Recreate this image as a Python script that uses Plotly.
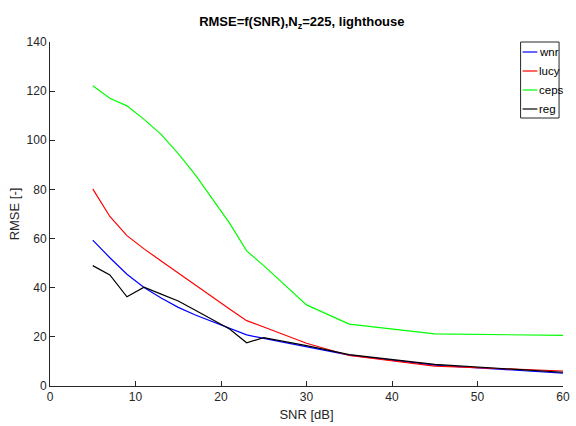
import plotly.graph_objects as go

# SNR grid [dB]
snr = [5, 7, 9, 11, 13, 15, 17, 19, 21, 23, 25, 30, 35, 45, 60]

# RMSE for each deconvolution method
rmse_wnr = [59.4, 52.2, 45.5, 40.1, 35.8, 32.0, 28.9, 26.3, 23.4, 20.8, 19.4, 16.0, 12.6, 8.5, 5.2]
rmse_lucy = [80.2, 69.0, 61.2, 55.8, 50.9, 45.9, 40.9, 36.2, 31.3, 26.6, 24.0, 17.4, 12.4, 8.1, 6.1]
rmse_ceps = [122.2, 117.1, 114.0, 108.5, 102.4, 94.6, 85.9, 76.1, 66.3, 55.0, 49.0, 33.0, 25.2, 21.2, 20.6]
rmse_reg = [49.0, 45.2, 36.3, 40.2, 37.4, 34.6, 30.8, 27.0, 23.2, 17.6, 19.7, 16.4, 12.8, 8.8, 5.6]

series = [
    ("wnr", rmse_wnr, "#0000ff"),
    ("lucy", rmse_lucy, "#ff0000"),
    ("ceps", rmse_ceps, "#00ff00"),
    ("reg", rmse_reg, "#000000"),
]

W, H = 576, 426
M_L, M_R, M_T, M_B = 50, 6, 42, 40
plot_w = W - M_L - M_R
plot_h = H - M_T - M_B

fig = go.Figure()
for name, vals, color in series:
    fig.add_trace(go.Scatter(x=snr, y=vals, mode="lines", name=name,
                             line=dict(color=color, width=1.2)))

font_family = "Liberation Sans, Arial, sans-serif"
axis_common = dict(
    showline=True, linecolor="#262626", linewidth=1,
    ticks="inside", ticklen=5, tickcolor="#262626",
    showgrid=False, zeroline=False, mirror=False,
    ticklabeloverflow="allow",
    tickfont=dict(family=font_family, size=12, color="#262626"),
)

# Compact boxed legend in the upper-right corner of the axes
def px_x(p):
    return (p - M_L) / plot_w

def px_y(p):
    return (H - M_B - p) / plot_h

box_l, box_r, box_t, box_b = 527, 566, 42, 118
row0, row_step = 52, 19
shapes = [dict(type="rect", xref="paper", yref="paper",
               x0=px_x(box_l), x1=px_x(box_r), y0=px_y(box_b), y1=px_y(box_t),
               line=dict(color="#262626", width=1), fillcolor="white", layer="above")]
annotations = []
for i, (name, _, color) in enumerate(series):
    yy = row0 + i * row_step
    shapes.append(dict(type="line", xref="paper", yref="paper",
                       x0=px_x(529), x1=px_x(544), y0=px_y(yy), y1=px_y(yy),
                       line=dict(color=color, width=1.2), layer="above"))
    annotations.append(dict(text=name, xref="paper", yref="paper",
                            x=px_x(544), y=px_y(yy), xanchor="left", yanchor="middle",
                            showarrow=False,
                            font=dict(family=font_family, size=11.5, color="black")))

fig.update_layout(
    width=W, height=H,
    margin=dict(l=M_L, r=M_R, t=M_T, b=M_B),
    paper_bgcolor="white", plot_bgcolor="white",
    title=dict(text="<b>RMSE=f(SNR),N<sub>z</sub>=225, lighthouse</b>",
               x=0.524, xanchor="center", y=0.95, yanchor="middle",
               font=dict(family=font_family, size=13, color="black")),
    xaxis=dict(range=[0, 60], tickvals=[0, 10, 20, 30, 40, 50, 60],
               title=dict(text="SNR [dB]", standoff=6,
                          font=dict(family=font_family, size=13, color="#262626")),
               **axis_common),
    yaxis=dict(range=[0, 140], tickvals=[0, 20, 40, 60, 80, 100, 120, 140],
               title=dict(text="RMSE [-]", standoff=4,
                          font=dict(family=font_family, size=13, color="#262626")),
               **axis_common),
    shapes=shapes,
    annotations=annotations,
    showlegend=False,
)

fig.write_html("out.html")
